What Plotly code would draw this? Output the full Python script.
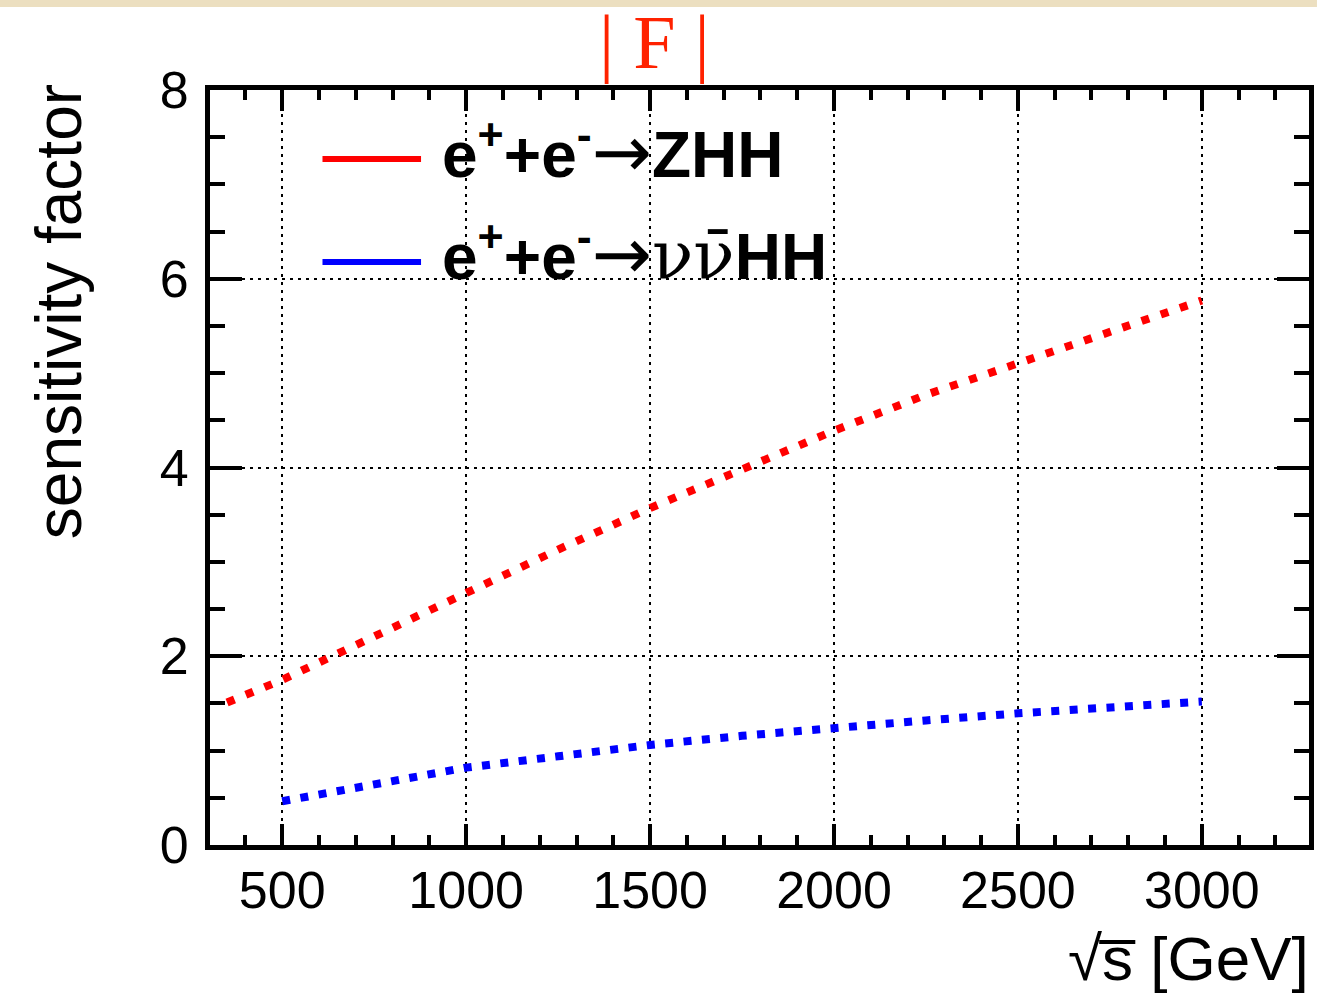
import plotly.graph_objects as go

# Data
sqrt_s_zhh = [350, 500, 750, 1000, 1250, 1500, 1750, 2000, 2250, 2500, 2750, 3000]
f_zhh = [1.51, 1.75, 2.21, 2.68, 3.13, 3.57, 3.99, 4.39, 4.77, 5.10, 5.45, 5.77]

sqrt_s_vvhh = [500, 750, 1000, 1250, 1500, 1750, 2000, 2250, 2500, 2750, 3000]
f_vvhh = [0.464, 0.646, 0.82, 0.94, 1.06, 1.157, 1.245, 1.32, 1.395, 1.46, 1.52]

ARROW = "<span style='font-family:DejaVu Sans;font-weight:normal;font-size:72px'>→</span>"
label_zhh = "<b>e<sup>+</sup>+e<sup>-</sup></b>" + ARROW + "<b>ZHH</b>"
label_vvhh = ("<b>e<sup>+</sup>+e<sup>-</sup></b>" + ARROW +
              "<span style='font-family:DejaVu Serif;font-weight:normal;font-size:68px'>νν̄</span>"
              "<b>HH</b>")

W, H = 1317, 993
L, R, T, B = 210, 3, 90, 148
pw = W - L - R
ph = H - T - B


def px(x):
    return (x - L) / pw


def py(y):
    return (H - B - y) / ph


fig = go.Figure()
fig.add_trace(go.Scatter(x=sqrt_s_zhh, y=f_zhh, mode="lines",
                         line=dict(color="#ff0000", width=8, dash="8px,12.24px"),
                         showlegend=False))
fig.add_trace(go.Scatter(x=sqrt_s_vvhh, y=f_vvhh, mode="lines",
                         line=dict(color="#0000ff", width=8, dash="8px,10.45px"),
                         showlegend=False))

axis_common = dict(
    showline=True, linecolor="black", linewidth=5, mirror="ticks",
    ticks="inside", tickcolor="black", tickwidth=4,
    showgrid=True, gridcolor="black", gridwidth=2, griddash="3px,5px",
    zeroline=False,
    tickfont=dict(family="Liberation Sans, Arial", size=52, color="black"),
)

fig.update_xaxes(range=[303.6, 3291.4], tick0=0, dtick=500, ticklen=21,
                 minor=dict(dtick=100, ticklen=10, tickwidth=4, tickcolor="black",
                            ticks="inside", showgrid=False),
                 ticklabelstandoff=-4, **axis_common)
fig.update_yaxes(range=[0, 8], tick0=0, dtick=2, ticklen=32,
                 minor=dict(dtick=0.5, ticklen=15, tickwidth=4, tickcolor="black",
                            ticks="inside", showgrid=False),
                 ticklabelstandoff=6, **axis_common)

shapes = [
    # beige strip at top of image
    dict(type="rect", xref="paper", yref="paper", x0=px(-5), x1=px(W + 5), y0=py(7), y1=py(-2),
         fillcolor="#ecdfc0", line=dict(width=0), layer="above"),
    # legend line samples
    dict(type="line", xref="paper", yref="paper", x0=px(323), x1=px(422), y0=py(159), y1=py(159),
         line=dict(color="#ff0000", width=6)),
    dict(type="line", xref="paper", yref="paper", x0=px(323), x1=px(422), y0=py(262), y1=py(262),
         line=dict(color="#0000ff", width=6)),
]

annotations = [
    dict(text="| F |", xref="paper", yref="paper", x=px(657), y=py(42),
         xanchor="center", yanchor="middle", showarrow=False,
         font=dict(family="Liberation Serif, Times New Roman", size=76, color="#ff2200")),
    dict(text=label_zhh, xref="paper", yref="paper", x=px(441), y=py(151),
         xanchor="left", yanchor="middle", showarrow=False,
         font=dict(family="Liberation Sans, Arial", size=64, color="black")),
    dict(text=label_vvhh, xref="paper", yref="paper", x=px(441), y=py(254),
         xanchor="left", yanchor="middle", showarrow=False,
         font=dict(family="Liberation Sans, Arial", size=64, color="black")),
    dict(text="sensitivity factor", xref="paper", yref="paper", x=px(58), y=py(82),
         xanchor="center", yanchor="top", textangle=-90, showarrow=False,
         font=dict(family="Liberation Sans, Arial", size=64, color="black")),
    dict(text="√s̅ [GeV]", xref="paper", yref="paper",
         x=px(1316), y=py(958), xanchor="right", yanchor="middle", showarrow=False,
         font=dict(family="Liberation Sans, Arial", size=62, color="black")),
]

fig.update_layout(
    width=W, height=H,
    margin=dict(l=L, r=R, t=T, b=B, pad=0),
    paper_bgcolor="white", plot_bgcolor="white",
    shapes=shapes, annotations=annotations,
    showlegend=False,
)

fig.write_html("out.html")
